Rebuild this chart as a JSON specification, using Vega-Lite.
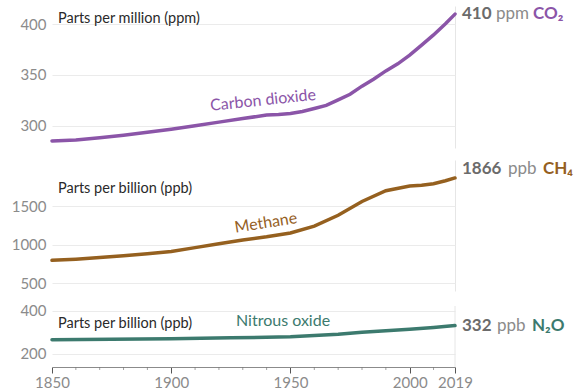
{
  "$schema": "https://vega.github.io/schema/vega-lite/v6.json",
  "background": "white",
  "padding": {"left": 5, "top": 5, "right": 5, "bottom": 5},
  "spacing": 12,
  "config": {
    "view": {"stroke": null},
    "font": "Lato",
    "axis": {"labelFont": "Lato"}
  },
  "datasets": {
    "co2": [
      {"year": 1850, "ppm": 285}, {"year": 1860, "ppm": 286}, {"year": 1870, "ppm": 288},
      {"year": 1880, "ppm": 290.5}, {"year": 1890, "ppm": 293.5}, {"year": 1900, "ppm": 296.5},
      {"year": 1910, "ppm": 300}, {"year": 1920, "ppm": 303.5}, {"year": 1930, "ppm": 307},
      {"year": 1940, "ppm": 310.5}, {"year": 1945, "ppm": 311}, {"year": 1950, "ppm": 312},
      {"year": 1955, "ppm": 314}, {"year": 1960, "ppm": 317}, {"year": 1965, "ppm": 320},
      {"year": 1970, "ppm": 325.5}, {"year": 1975, "ppm": 331}, {"year": 1980, "ppm": 339},
      {"year": 1985, "ppm": 346}, {"year": 1990, "ppm": 354}, {"year": 1995, "ppm": 361},
      {"year": 2000, "ppm": 369.5}, {"year": 2005, "ppm": 379.5}, {"year": 2010, "ppm": 389.5},
      {"year": 2015, "ppm": 400.5}, {"year": 2019, "ppm": 410}
    ],
    "ch4": [
      {"year": 1850, "ppb": 795}, {"year": 1860, "ppb": 810}, {"year": 1870, "ppb": 830},
      {"year": 1880, "ppb": 855}, {"year": 1890, "ppb": 880}, {"year": 1900, "ppb": 910},
      {"year": 1910, "ppb": 960}, {"year": 1920, "ppb": 1010}, {"year": 1930, "ppb": 1060},
      {"year": 1940, "ppb": 1100}, {"year": 1950, "ppb": 1150}, {"year": 1960, "ppb": 1240},
      {"year": 1970, "ppb": 1380}, {"year": 1980, "ppb": 1560}, {"year": 1990, "ppb": 1700},
      {"year": 2000, "ppb": 1760}, {"year": 2005, "ppb": 1770}, {"year": 2010, "ppb": 1790},
      {"year": 2015, "ppb": 1830}, {"year": 2019, "ppb": 1866}
    ],
    "n2o": [
      {"year": 1850, "ppb": 266}, {"year": 1875, "ppb": 268}, {"year": 1900, "ppb": 271},
      {"year": 1925, "ppb": 275}, {"year": 1950, "ppb": 280}, {"year": 1960, "ppb": 286},
      {"year": 1970, "ppb": 292}, {"year": 1980, "ppb": 301}, {"year": 1990, "ppb": 308},
      {"year": 2000, "ppb": 315}, {"year": 2010, "ppb": 323}, {"year": 2019, "ppb": 332}
    ],
    "minorTicks": [
      {"year": 1860}, {"year": 1870}, {"year": 1880}, {"year": 1890},
      {"year": 1910}, {"year": 1920}, {"year": 1930}, {"year": 1940},
      {"year": 1960}, {"year": 1970}, {"year": 1980}, {"year": 1990}, {"year": 2010}
    ]
  },
  "vconcat": [
    {
      "width": 403,
      "height": 142,
      "layer": [
        {
          "data": {"name": "co2"},
          "mark": {"type": "line", "color": "#8b55a8", "strokeWidth": 3.5, "strokeCap": "round"},
          "encoding": {
            "x": {"field": "year", "type": "quantitative",
              "scale": {"domain": [1850, 2019], "nice": false, "zero": false},
              "axis": {"values": [2019], "grid": true, "gridColor": "#e6e6e6", "labels": false, "ticks": false, "domain": false, "title": null}},
            "y": {"field": "ppm", "type": "quantitative",
              "scale": {"domain": [278, 418], "nice": false, "zero": false},
              "axis": {"values": [300, 350, 400], "format": "d", "title": null, "domain": false, "ticks": false, "grid": true, "gridColor": "#ebebeb", "labelColor": "#8b8b8b", "labelFontSize": 15, "labelPadding": 6, "minExtent": 47, "maxExtent": 47}}
          }
        },
        {
          "data": {"values": [{}]},
          "mark": {"type": "text", "align": "left", "baseline": "middle", "fontSize": 14.5, "color": "#2a2a2a", "text": "Parts per million (ppm)"},
          "encoding": {"x": {"datum": 1852.5, "type": "quantitative"}, "y": {"datum": 405, "type": "quantitative"}}
        },
        {
          "data": {"values": [{}]},
          "mark": {"type": "text", "align": "center", "baseline": "middle", "fontSize": 16, "angle": -6, "color": "#8b55a8", "text": "Carbon dioxide"},
          "encoding": {"x": {"datum": 1938.5, "type": "quantitative"}, "y": {"datum": 325, "type": "quantitative"}}
        },
        {
          "data": {"values": [{}]},
          "mark": {"type": "text", "align": "left", "baseline": "middle", "fontSize": 17, "fontWeight": "bold", "color": "#6b6b6b", "dx": 7, "text": "410"},
          "encoding": {"x": {"datum": 2019, "type": "quantitative"}, "y": {"datum": 410, "type": "quantitative"}}
        },
        {
          "data": {"values": [{}]},
          "mark": {"type": "text", "align": "left", "baseline": "middle", "fontSize": 17, "color": "#8b8b8b", "dx": 41, "text": "ppm"},
          "encoding": {"x": {"datum": 2019, "type": "quantitative"}, "y": {"datum": 410, "type": "quantitative"}}
        },
        {
          "data": {"values": [{}]},
          "mark": {"type": "text", "align": "left", "baseline": "middle", "fontSize": 17, "fontWeight": "bold", "color": "#8b55a8", "dx": 78, "text": "CO₂"},
          "encoding": {"x": {"datum": 2019, "type": "quantitative"}, "y": {"datum": 410, "type": "quantitative"}}
        }
      ]
    },
    {
      "width": 403,
      "height": 131,
      "layer": [
        {
          "data": {"name": "ch4"},
          "mark": {"type": "line", "color": "#95601f", "strokeWidth": 3.5, "strokeCap": "round"},
          "encoding": {
            "x": {"field": "year", "type": "quantitative",
              "scale": {"domain": [1850, 2019], "nice": false, "zero": false},
              "axis": {"values": [2019], "grid": true, "gridColor": "#e6e6e6", "labels": false, "ticks": false, "domain": false, "title": null}},
            "y": {"field": "ppb", "type": "quantitative",
              "scale": {"domain": [396, 2099], "nice": false, "zero": false},
              "axis": {"values": [500, 1000, 1500], "format": "d", "title": null, "domain": false, "ticks": false, "grid": true, "gridColor": "#ebebeb", "labelColor": "#8b8b8b", "labelFontSize": 15, "labelPadding": 6, "minExtent": 47, "maxExtent": 47}}
          }
        },
        {
          "data": {"values": [{}]},
          "mark": {"type": "text", "align": "left", "baseline": "middle", "fontSize": 14.5, "color": "#2a2a2a", "text": "Parts per billion (ppb)"},
          "encoding": {"x": {"datum": 1852.5, "type": "quantitative"}, "y": {"datum": 1721, "type": "quantitative"}}
        },
        {
          "data": {"values": [{}]},
          "mark": {"type": "text", "align": "center", "baseline": "middle", "fontSize": 16, "angle": -9, "color": "#95601f", "text": "Methane"},
          "encoding": {"x": {"datum": 1939.7, "type": "quantitative"}, "y": {"datum": 1280, "type": "quantitative"}}
        },
        {
          "data": {"values": [{}]},
          "mark": {"type": "text", "align": "left", "baseline": "middle", "fontSize": 17, "fontWeight": "bold", "color": "#6b6b6b", "dx": 7, "text": "1866"},
          "encoding": {"x": {"datum": 2019, "type": "quantitative"}, "y": {"datum": 1982, "type": "quantitative"}}
        },
        {
          "data": {"values": [{}]},
          "mark": {"type": "text", "align": "left", "baseline": "middle", "fontSize": 17, "color": "#8b8b8b", "dx": 53, "text": "ppb"},
          "encoding": {"x": {"datum": 2019, "type": "quantitative"}, "y": {"datum": 1982, "type": "quantitative"}}
        },
        {
          "data": {"values": [{}]},
          "mark": {"type": "text", "align": "left", "baseline": "middle", "fontSize": 17, "fontWeight": "bold", "color": "#95601f", "dx": 88, "text": "CH₄"},
          "encoding": {"x": {"datum": 2019, "type": "quantitative"}, "y": {"datum": 1982, "type": "quantitative"}}
        }
      ]
    },
    {
      "width": 403,
      "height": 61,
      "layer": [
        {
          "data": {"values": [{}]},
          "mark": {"type": "rule", "color": "#e6e6e6", "strokeWidth": 1},
          "encoding": {"x": {"datum": 2019, "type": "quantitative"}}
        },
        {
          "data": {"name": "n2o"},
          "mark": {"type": "line", "color": "#3c7a6e", "strokeWidth": 3.5, "strokeCap": "round"},
          "encoding": {
            "x": {"field": "year", "type": "quantitative",
              "scale": {"domain": [1850, 2019], "nice": false, "zero": false},
              "axis": {"values": [1850, 1900, 1950, 2000, 2019],
                "format": "d", "title": null,
                "labelOverlap": false, "labelFlush": false, "labelBound": false,
                "labelColor": "#8b8b8b", "labelFontSize": 15, "labelPadding": 2,
                "domain": true, "domainColor": "#8b8b8b", "ticks": true, "tickColor": "#555555", "tickSize": 6,
                "grid": false}},
            "y": {"field": "ppb", "type": "quantitative",
              "scale": {"domain": [139.5, 423], "nice": false, "zero": false},
              "axis": {"values": [200, 400], "format": "d", "title": null, "domain": false, "ticks": false, "grid": true, "gridColor": "#ebebeb", "labelColor": "#8b8b8b", "labelFontSize": 15, "labelPadding": 6, "minExtent": 47, "maxExtent": 47}}
          }
        },
        {
          "data": {"name": "minorTicks"},
          "mark": {"type": "tick", "orient": "vertical", "size": 3, "thickness": 1, "color": "#777777", "yOffset": 1.5},
          "encoding": {"x": {"field": "year", "type": "quantitative"}, "y": {"datum": 139.5, "type": "quantitative"}}
        },
        {
          "data": {"values": [{}]},
          "mark": {"type": "text", "align": "left", "baseline": "middle", "fontSize": 14.5, "color": "#2a2a2a", "text": "Parts per billion (ppb)"},
          "encoding": {"x": {"datum": 1852.5, "type": "quantitative"}, "y": {"datum": 339.5, "type": "quantitative"}}
        },
        {
          "data": {"values": [{}]},
          "mark": {"type": "text", "align": "center", "baseline": "middle", "fontSize": 16, "color": "#3c7a6e", "text": "Nitrous oxide"},
          "encoding": {"x": {"datum": 1946.9, "type": "quantitative"}, "y": {"datum": 353.5, "type": "quantitative"}}
        },
        {
          "data": {"values": [{}]},
          "mark": {"type": "text", "align": "left", "baseline": "middle", "fontSize": 17, "fontWeight": "bold", "color": "#6b6b6b", "dx": 7, "text": "332"},
          "encoding": {"x": {"datum": 2019, "type": "quantitative"}, "y": {"datum": 332, "type": "quantitative"}}
        },
        {
          "data": {"values": [{}]},
          "mark": {"type": "text", "align": "left", "baseline": "middle", "fontSize": 17, "color": "#8b8b8b", "dx": 42, "text": "ppb"},
          "encoding": {"x": {"datum": 2019, "type": "quantitative"}, "y": {"datum": 332, "type": "quantitative"}}
        },
        {
          "data": {"values": [{}]},
          "mark": {"type": "text", "align": "left", "baseline": "middle", "fontSize": 17, "fontWeight": "bold", "color": "#3c7a6e", "dx": 77, "text": "N₂O"},
          "encoding": {"x": {"datum": 2019, "type": "quantitative"}, "y": {"datum": 332, "type": "quantitative"}}
        }
      ]
    }
  ]
}
